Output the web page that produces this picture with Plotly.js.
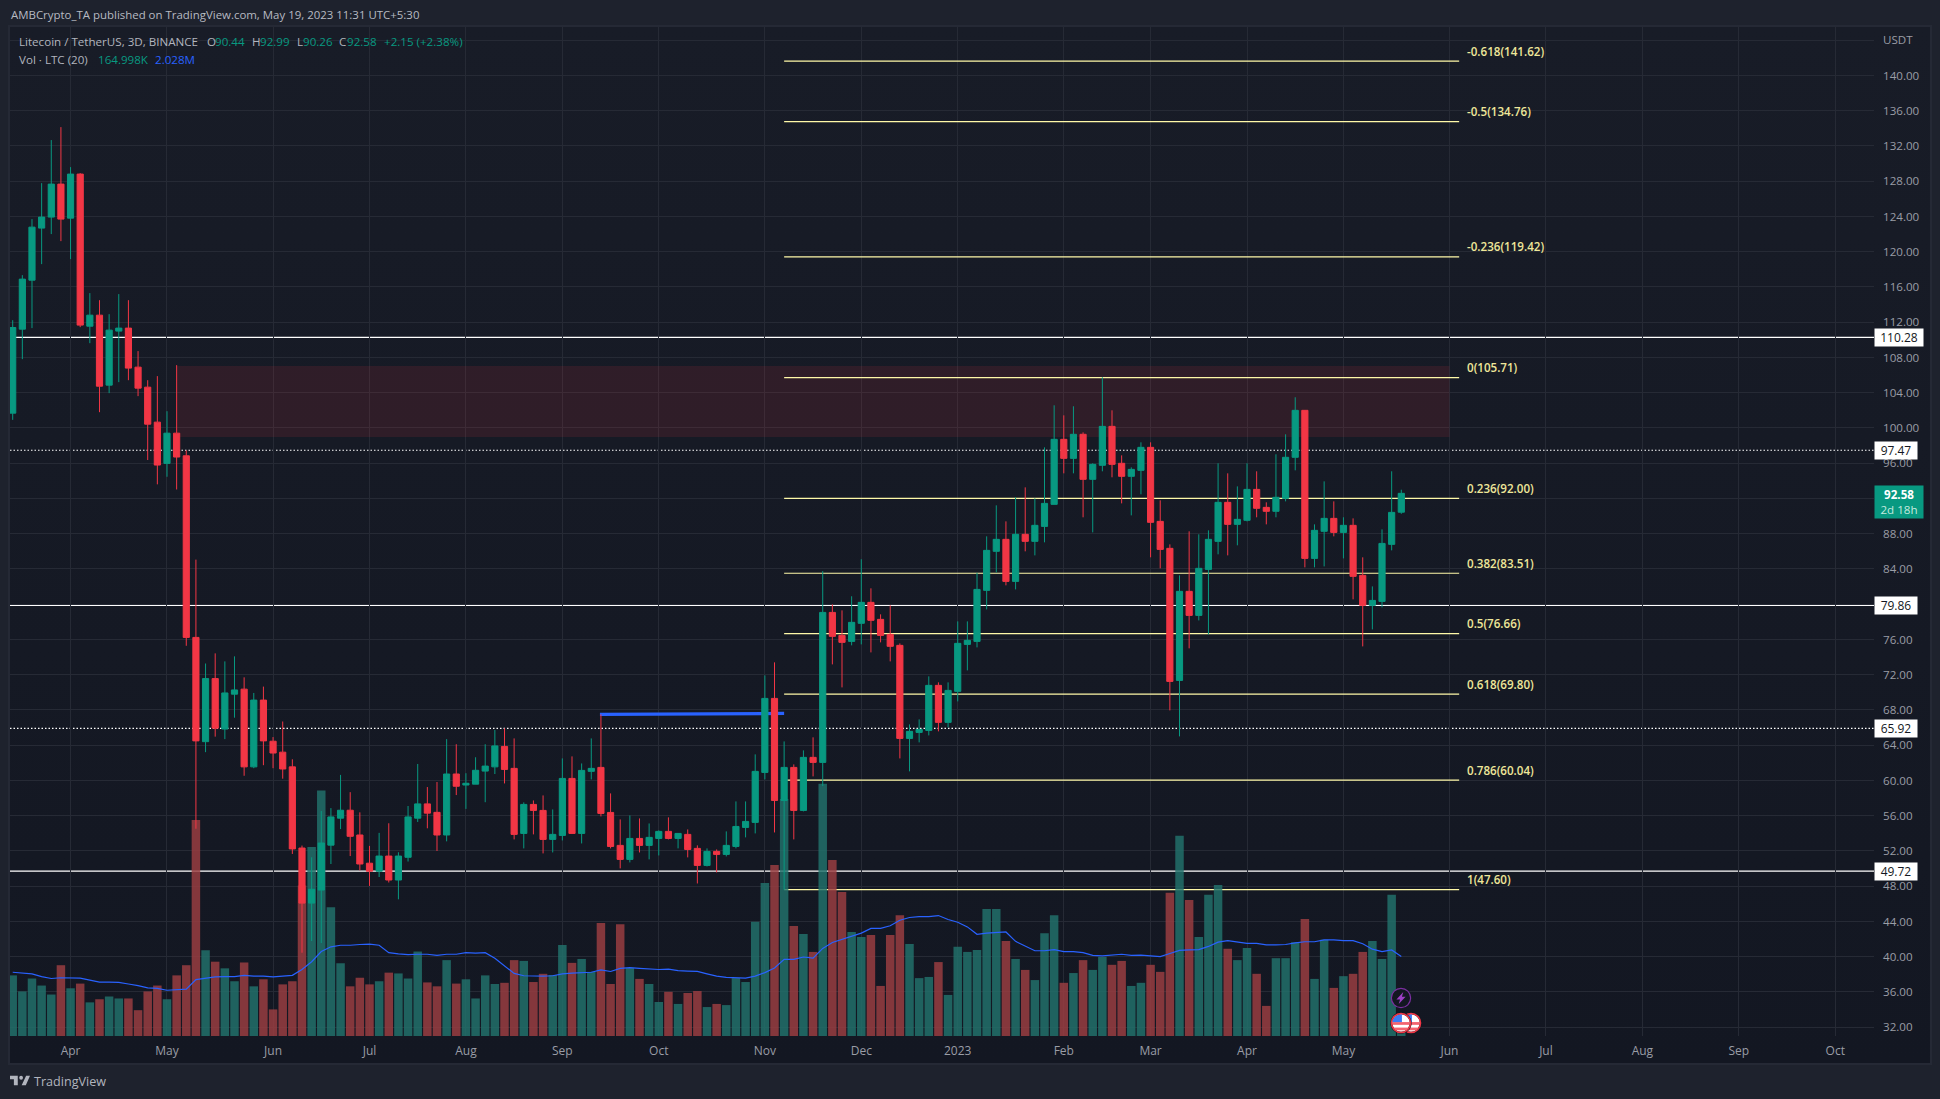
<!DOCTYPE html>
<html><head><meta charset="utf-8">
<script src="https://cdn.plot.ly/plotly-3.0.1.min.js"></script>
<style>
html,body{margin:0;padding:0;width:1940px;height:1099px;overflow:hidden;background:#1e222d}
#pane{position:absolute;left:10px;top:27px;width:1920px;height:1036px;background:linear-gradient(#181c27,#131722);box-shadow:0 0 0 2px #252935}
#chart{position:absolute;left:0;top:0;width:1940px;height:1099px}
</style></head><body>
<div id="pane"></div><div id="chart"></div>
<script>
const openP=[101.68,111.21,116.77,122.68,123.93,127.67,123.81,128.81,111.55,112.80,104.86,110.99,111.33,106.90,104.63,100.66,95.98,99.41,96.84,76.23,64.40,71.56,65.83,69.79,70.36,61.54,69.12,64.45,63.21,61.54,52.33,46.08,47.56,52.66,55.72,56.62,53.81,50.61,49.70,51.42,48.70,51.28,55.72,57.34,56.38,53.81,60.73,59.48,59.58,61.06,61.54,63.86,61.37,53.99,57.28,56.60,53.31,53.76,60.23,53.99,61.03,61.48,56.37,52.63,51.04,53.42,52.63,53.42,54.22,53.42,53.88,52.29,50.36,51.95,51.61,52.51,54.67,55.24,60.91,69.31,57.73,61.48,56.60,62.62,62.05,79.07,76.46,75.78,77.83,80.21,78.28,76.58,75.33,64.77,65.45,65.68,70.79,66.59,70.11,75.44,75.78,81.57,86.00,87.36,82.59,87.93,87.13,88.83,91.33,98.71,96.55,99.28,94.17,95.76,100.18,95.99,94.51,95.19,97.80,89.40,86.34,71.35,81.46,78.73,83.95,87.13,91.56,89.06,89.52,93.03,90.99,90.54,92.01,96.67,102.00,85.20,88.27,89.74,88.15,88.95,83.27,79.87,80.32,86.79,90.44];
const highP=[112.23,117.34,123.70,127.78,132.67,134.14,129.60,128.92,115.30,114.50,112.91,115.19,114.50,108.72,105.42,105.88,101.90,107.13,97.46,85.06,73.27,74.42,73.51,74.08,71.70,69.93,70.65,64.92,66.69,62.40,52.61,51.28,56.53,56.86,60.63,58.67,56.38,52.57,54.05,55.14,51.85,57.10,61.87,59.25,59.82,64.69,64.11,60.82,62.63,64.11,65.73,65.91,64.77,57.51,57.73,58.30,56.71,62.50,62.73,61.93,64.77,67.50,58.53,55.58,56.03,55.69,55.12,54.33,55.81,53.99,54.44,52.63,52.29,52.17,54.22,57.62,57.62,62.96,71.92,73.40,64.43,61.82,63.41,64.89,83.75,79.98,79.30,80.90,85.10,81.80,78.85,79.87,75.55,66.36,66.93,71.81,71.13,71.13,78.05,78.05,83.57,87.70,91.22,89.40,92.13,93.26,92.01,97.80,102.57,101.43,102.46,99.50,95.99,105.75,102.00,96.89,95.53,98.37,98.37,91.79,86.79,83.27,88.27,87.93,88.38,95.99,94.85,93.37,95.99,95.08,91.56,97.01,99.28,103.48,102.00,89.06,93.94,91.67,89.86,89.74,85.32,82.02,88.49,95.08,92.99];
const lowP=[100.92,107.81,111.33,118.59,122.00,121.20,119.16,111.44,109.62,101.79,103.95,105.20,105.42,103.61,96.36,93.60,94.46,93.02,75.28,54.52,63.21,64.97,64.69,67.12,60.53,61.39,61.73,61.39,60.20,51.66,40.45,41.78,41.55,50.52,54.48,51.42,49.80,48.03,49.04,48.42,46.51,50.80,55.29,54.57,51.99,53.09,58.34,56.77,59.58,57.53,60.73,59.66,53.31,52.29,53.88,51.72,51.83,53.19,53.99,52.85,60.12,55.92,52.29,50.02,50.70,51.83,51.04,51.49,53.31,52.29,51.27,48.31,50.24,49.56,51.38,52.29,53.54,53.99,60.12,54.10,47.60,53.31,56.49,60.46,59.36,73.17,70.56,75.33,75.44,74.53,75.67,73.51,62.50,61.03,64.32,65.11,65.57,66.02,68.97,72.49,75.10,79.41,83.61,82.14,81.68,86.00,85.54,87.02,91.33,94.85,94.85,89.86,88.15,95.08,94.40,91.44,90.08,92.47,85.32,84.07,67.95,65.00,74.99,78.16,76.58,85.66,85.54,86.68,89.40,89.86,89.06,89.86,91.67,95.19,84.18,84.18,84.29,87.70,85.20,80.55,75.21,77.14,79.64,86.11,90.26];
const closeP=[111.40,116.89,122.79,123.93,127.67,123.70,128.81,111.67,112.80,104.74,111.10,111.33,106.79,104.52,100.43,95.79,99.41,96.70,76.23,64.49,71.56,65.93,69.93,70.27,61.54,69.12,64.49,63.11,61.30,52.23,46.08,47.65,52.90,55.86,56.62,53.66,50.52,49.70,51.42,48.70,51.42,55.86,57.34,56.29,53.81,60.73,59.34,59.68,61.15,61.63,63.92,61.25,53.88,57.28,56.60,53.31,53.88,60.23,53.99,61.14,61.37,56.26,52.51,51.04,53.42,52.63,53.54,54.22,53.42,53.99,52.17,50.36,51.95,51.61,52.63,54.78,55.35,61.03,69.31,57.73,61.48,56.60,62.62,62.05,79.07,76.35,75.67,77.94,80.21,78.17,76.46,75.22,64.77,65.57,65.79,70.79,66.59,70.22,75.56,75.90,81.68,86.11,87.36,82.59,87.93,87.13,88.95,91.44,98.71,96.55,99.28,94.17,95.87,100.18,95.87,94.51,95.30,97.80,89.29,86.22,71.24,81.46,78.73,84.07,87.36,91.56,89.06,89.63,93.03,90.88,90.54,92.13,96.67,102.00,85.20,88.38,89.74,88.15,88.95,83.16,79.87,80.43,86.90,90.42,92.58];
const volumeM=[1.55,1.14,1.47,1.29,1.06,1.81,1.22,1.34,0.86,0.94,1.01,0.96,0.96,0.66,1.14,1.29,0.94,1.55,1.81,5.52,2.19,1.90,1.73,1.40,1.88,1.27,1.45,0.68,1.32,1.40,3.85,4.83,6.28,3.29,1.86,1.27,1.49,1.32,1.40,1.62,1.60,1.47,2.16,1.37,1.27,1.94,1.34,1.45,0.96,1.55,1.33,1.36,1.94,1.92,1.38,1.59,1.56,2.33,1.87,1.97,1.64,2.89,1.33,2.86,1.74,1.46,1.33,0.87,1.13,0.82,1.10,1.15,0.74,0.82,0.79,1.48,1.38,2.92,3.91,4.37,6.06,2.81,2.61,2.15,6.45,4.50,3.68,2.66,2.53,2.58,1.28,2.58,3.09,2.35,1.48,1.51,1.89,1.05,2.28,2.15,2.20,3.25,3.25,2.43,1.97,1.69,1.43,2.63,3.09,1.36,1.61,1.94,1.69,2.02,1.82,1.92,1.28,1.36,1.82,1.64,3.66,5.12,3.48,2.53,3.61,3.86,2.23,1.94,2.25,1.59,0.77,1.99,1.99,2.40,2.99,1.46,2.46,1.23,1.53,1.59,2.15,2.43,1.97,3.61,0.165];
const volumeMA=[1.63,1.61,1.59,1.52,1.47,1.49,1.48,1.48,1.43,1.38,1.38,1.37,1.33,1.29,1.23,1.22,1.17,1.18,1.20,1.44,1.47,1.51,1.52,1.52,1.55,1.53,1.53,1.51,1.53,1.55,1.70,1.90,2.16,2.28,2.32,2.32,2.34,2.35,2.32,2.13,2.10,2.08,2.09,2.09,2.06,2.09,2.09,2.13,2.12,2.13,1.99,1.79,1.60,1.54,1.53,1.53,1.54,1.59,1.61,1.62,1.63,1.69,1.65,1.73,1.75,1.73,1.72,1.70,1.71,1.67,1.66,1.65,1.59,1.53,1.50,1.49,1.48,1.53,1.62,1.74,1.96,1.96,2.02,1.99,2.24,2.39,2.47,2.55,2.63,2.75,2.75,2.82,2.96,3.03,3.05,3.05,3.08,2.98,2.91,2.79,2.60,2.63,2.65,2.66,2.42,2.30,2.18,2.18,2.21,2.16,2.16,2.13,2.06,2.05,2.07,2.09,2.06,2.07,2.05,2.03,2.11,2.19,2.20,2.21,2.29,2.40,2.44,2.40,2.37,2.37,2.33,2.33,2.34,2.38,2.41,2.41,2.46,2.46,2.44,2.44,2.36,2.22,2.16,2.20,2.03];
const monthTickBars=[6,16,27,37,47,57,67,78,88,98,109,118,128,138,149,159,169,179,189];
const monthTickText=["Apr","May","Jun","Jul","Aug","Sep","Oct","Nov","Dec","2023","Feb","Mar","Apr","May","Jun","Jul","Aug","Sep","Oct"];
const priceTicks=[32,36,40,44,48,52,56,60,64,68,72,76,80,84,88,92,96,100,104,108,112,116,120,124,128,132,136,140,144];
const priceTickText=["32.00","36.00","40.00","44.00","48.00","52.00","56.00","60.00","64.00","68.00","72.00","76.00","80.00","84.00","88.00","","96.00","100.00","104.00","108.00","112.00","116.00","120.00","124.00","128.00","132.00","136.00","140.00","USDT"];
const fibLabels=["-0.618(141.62)","-0.5(134.76)","-0.236(119.42)","0(105.71)","0.236(92.00)","0.382(83.51)","0.5(76.66)","0.618(69.80)","0.786(60.04)","1(47.60)"];
const fibPrices=[141.62,134.76,119.42,105.71,92.00,83.51,76.66,69.80,60.04,47.60];
const solidLevels=[110.28,79.86,49.72];
const dottedLevels=[97.47,65.92];
const supplyZone=[98.97,107.03];
const swingLine=[67.50,67.60];

const UP='#089981',DOWN='#f23645',FONT='"Open Sans",sans-serif';
const bars=openP.map((_,i)=>i);
const X0=-0.28,X1=193.02,Y0=31.0,Y1=145.5;
/* the volume pane is overlaid on the price scale: one million LTC spans this many USDT of axis */
const VOL_SCALE=(Y1-Y0)/25.8;
const px=v=>(v-10)/1864, py=v=>(1036-v)/1009;

const shapes=[];
shapes.push({type:'rect',xref:'x',yref:'y',x0:17,x1:149,y0:supplyZone[0],y1:supplyZone[1],fillcolor:'rgba(242,54,69,0.115)',line:{width:0},layer:'between'});
fibPrices.forEach(p=>shapes.push({type:'line',xref:'x',yref:'y',x0:80,x1:150,y0:p,y1:p,line:{color:'#fff9a8',width:1.2},layer:'between'}));
solidLevels.forEach(p=>shapes.push({type:'line',xref:'paper',yref:'y',x0:0,x1:1,y0:p,y1:p,line:{color:'#ffffff',width:1.3},layer:'between'}));
dottedLevels.forEach(p=>shapes.push({type:'line',xref:'paper',yref:'y',x0:0,x1:1,y0:p,y1:p,line:{color:'#ffffff',width:1.2,dash:'1.5px,2px'},layer:'between'}));
shapes.push({type:'line',xref:'x',yref:'y',x0:60.9,x1:80,y0:swingLine[0],y1:swingLine[1],line:{color:'#2962ff',width:3.2},layer:'between'});

const note=(text,x,y,color,extra)=>Object.assign({text:text,xref:'paper',yref:'paper',x:px(x),y:py(y),xanchor:'left',yanchor:'middle',showarrow:false,borderpad:0,font:{family:FONT,size:11.6,color:color}},extra||{});
const TXT='#b2b5be',TEAL='#089981';
const annotations=[
 note('AMBCrypto_TA published on TradingView.com, May 19, 2023 11:31 UTC+5:30',10,14.5,'#b7bac2',{font:{family:FONT,size:11.45,color:'#b7bac2'}}),
 note('Litecoin / TetherUS, 3D, BINANCE',18,41.7,TXT),
 note('O',206,41.7,TXT),note('90.44',214,41.7,TEAL),
 note('H',251,41.7,TXT),note('92.99',259,41.7,TEAL),
 note('L',296,41.7,TXT),note('90.26',302,41.7,TEAL),
 note('C',338,41.7,TXT),note('92.58',346,41.7,TEAL),
 note('+2.15 (+2.38%)',383,41.7,TEAL),
 note('Vol · LTC (20)',18,59,TXT),
 note('164.998K',97,59,TEAL),
 note('2.028M',154,59,'#2962ff'),
 note('TradingView',33,1081,'#b2b5be',{font:{family:FONT,size:12.6,color:'#b2b5be'}})
];
fibLabels.forEach((t,i)=>annotations.push({text:t,xref:'x',yref:'y',x:150.75,y:fibPrices[i],yshift:10,xanchor:'left',yanchor:'middle',showarrow:false,borderpad:0,font:{family:FONT,size:11.6,weight:600,color:'#efe79a'}}));
const tag=(value,w)=>({text:value.toFixed(2),xref:'paper',yref:'y',x:1,y:value,xanchor:'left',yanchor:'middle',showarrow:false,bgcolor:'#ffffff',width:w,height:17,align:'center',borderpad:0,font:{family:FONT,size:12,color:'#131722'}});
annotations.push(tag(110.28,48),tag(97.47,42),tag(79.86,42),tag(65.92,42),tag(49.72,42));
annotations.push({text:'<b>92.58</b><br><span style="color:#c4eadf">2d 18h</span>',xref:'paper',yref:'y',x:1,y:closeP[closeP.length-1],yshift:-9,xanchor:'left',yanchor:'middle',showarrow:false,bgcolor:UP,width:48,height:32,align:'center',borderpad:0,font:{family:FONT,size:11.6,color:'#ffffff'}});

const svgSrc=s=>'data:image/svg+xml;charset=utf-8,'+encodeURIComponent(s);
const flag=svgSrc('<svg xmlns="http://www.w3.org/2000/svg" viewBox="0 0 24 24"><defs><clipPath id="c"><circle cx="12" cy="12" r="9.5"/></clipPath></defs><circle cx="12" cy="12" r="11.6" fill="#131722"/><g clip-path="url(#c)"><rect width="24" height="24" fill="#fff"/><rect y="11" width="24" height="3" fill="#f4636f"/><rect y="17" width="24" height="3" fill="#f4636f"/><rect x="2" y="2" width="11" height="9" fill="#3b7bf6"/></g><circle cx="12" cy="12" r="10.4" fill="none" stroke="#f23645" stroke-width="1.7"/></svg>');
const bolt=svgSrc('<svg xmlns="http://www.w3.org/2000/svg" viewBox="0 0 24 24"><circle cx="12" cy="12" r="10.5" fill="#131722" stroke="#7b2fa0" stroke-width="1.3"/><path d="M14.5 5.5 L7 13.5 H11 L9.5 18.5 L17 10.5 H13 Z" fill="#9c3fc4"/></svg>');
const logo=svgSrc('<svg xmlns="http://www.w3.org/2000/svg" viewBox="0 0 36 20"><path d="M14 2H0v6h7v10h7zM28.5 18h-7.5L29 2h7z" fill="#b2b5be"/><circle cx="20" cy="5.5" r="3.4" fill="#b2b5be"/></svg>');
const img=(src,cx,cy,w,h)=>({source:src,xref:'paper',yref:'paper',x:px(cx-w/2),y:py(cy-h/2),sizex:w/1864,sizey:h/1009,sizing:'stretch',xanchor:'left',yanchor:'top',layer:'above'});
const images=[img(flag,1411,1023,22,22),img(flag,1401,1023,22,22),img(bolt,1401,998,22,22),img(logo,20,1080.5,20,12)];

const traces=[
 {type:'bar',x:bars,y:volumeM.map(v=>v*VOL_SCALE),base:Y0,marker:{color:bars.map(i=>closeP[i]>=openP[i]?'rgba(34,115,109,0.82)':'rgba(157,62,66,0.82)'),line:{width:0}},hoverinfo:'skip'},
 {type:'candlestick',x:bars,open:openP,high:highP,low:lowP,close:closeP,whiskerwidth:0,
  increasing:{line:{color:UP,width:1},fillcolor:UP},decreasing:{line:{color:DOWN,width:1},fillcolor:DOWN},hoverinfo:'skip'},
 {type:'scatter',mode:'lines',x:bars,y:volumeMA.map(v=>Y0+v*VOL_SCALE),line:{color:'#2962ff',width:1.2},hoverinfo:'skip'}
];
const layout={width:1940,height:1099,margin:{l:10,r:66,t:27,b:63,pad:0},paper_bgcolor:'rgba(0,0,0,0)',plot_bgcolor:'rgba(0,0,0,0)',showlegend:false,bargap:0.12,boxmode:'overlay',boxgap:0.36,boxgroupgap:0,
 font:{family:FONT},
 xaxis:{type:'linear',range:[X0,X1],tickmode:'array',tickvals:monthTickBars,ticktext:monthTickText,showgrid:true,gridcolor:'#262a35',gridwidth:1,zeroline:false,showline:false,ticks:'',ticklabelstandoff:6,tickfont:{family:FONT,size:12,color:'#9a9da6'},rangeslider:{visible:false},fixedrange:true},
 yaxis:{side:'right',anchor:'x',range:[Y0,Y1],tickmode:'array',tickvals:priceTicks,ticktext:priceTickText,showgrid:true,gridcolor:'#262a35',gridwidth:1,zeroline:false,showline:false,ticks:'',ticklabelstandoff:8,tickfont:{family:FONT,size:11.6,color:'#9a9da6'},fixedrange:true},
 shapes:shapes,annotations:annotations,images:images};
Plotly.newPlot('chart',traces,layout,{displayModeBar:false,staticPlot:true});
</script></body></html>
